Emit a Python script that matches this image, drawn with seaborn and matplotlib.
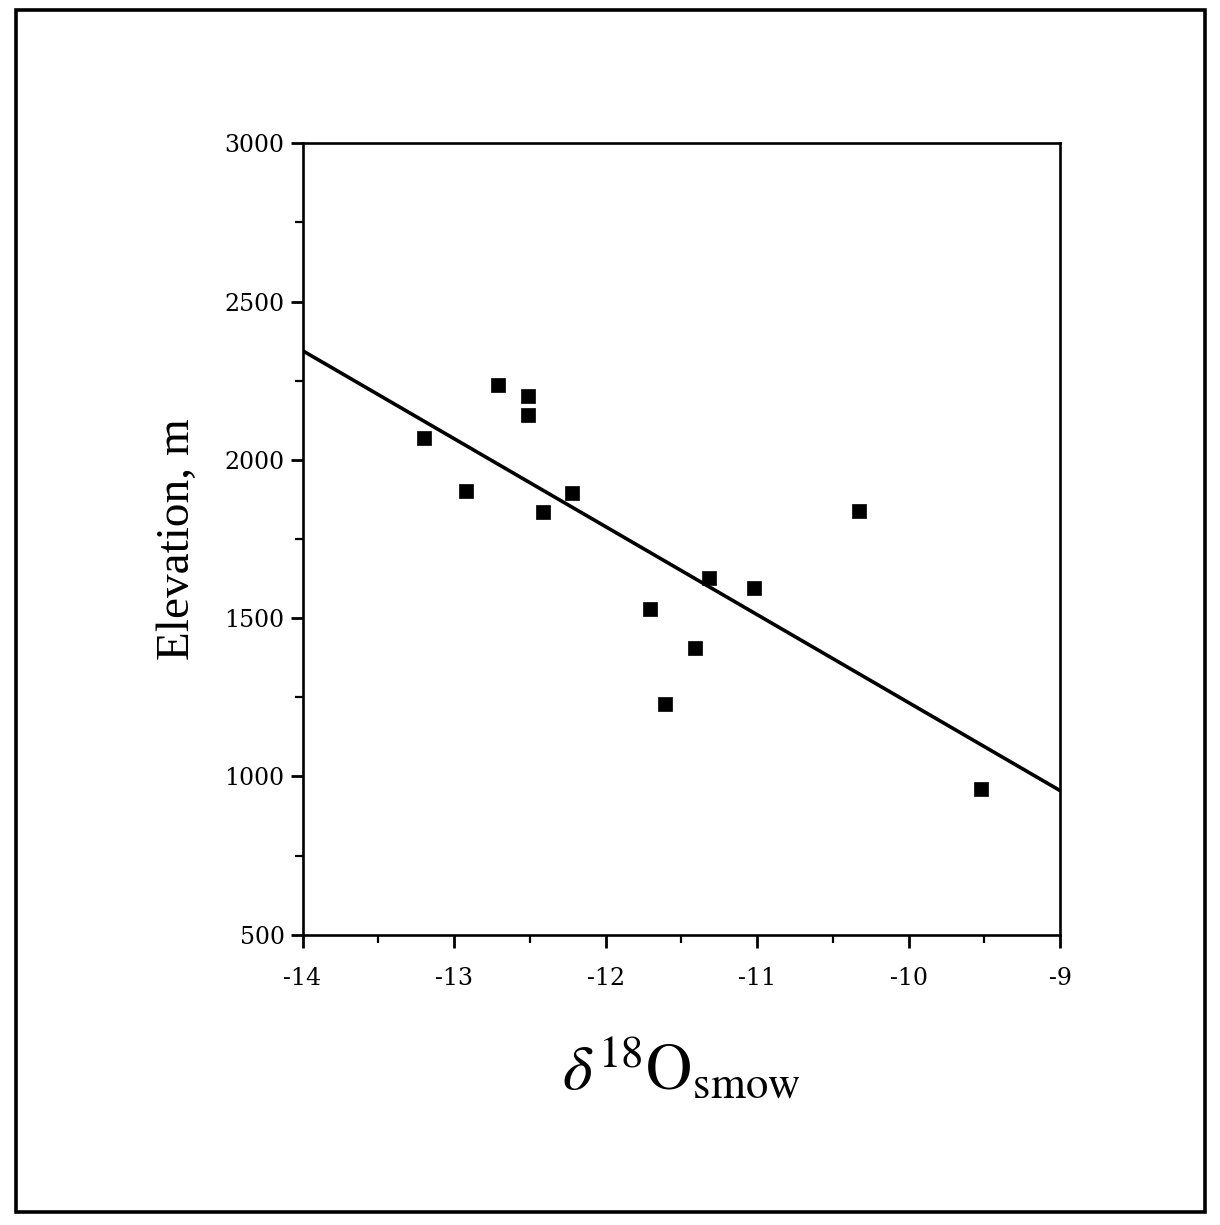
import matplotlib
matplotlib.use("Agg")
import matplotlib.pyplot as plt
import seaborn as sns
import pandas as pd
from matplotlib.ticker import MultipleLocator
from matplotlib.patches import Rectangle

# Data
d18o = [-13.2, -12.92, -12.71, -12.51, -12.51, -12.41, -12.22,
        -11.71, -11.61, -11.41, -11.32, -11.02, -10.33, -9.52]
elevation = [2068, 1902, 2235, 2202, 2142, 1836, 1894,
             1528, 1229, 1407, 1628, 1596, 1840, 961]
fit_x = [-14, -9]
fit_y = [2345, 955]
x_ticks = [-14, -13, -12, -11, -10, -9]
y_ticks = [500, 1000, 1500, 2000, 2500, 3000]

sns.set_style("white")
plt.rcParams["font.family"] = ["DejaVu Serif"]
plt.rcParams["mathtext.fontset"] = "stix"
plt.rcParams["text.color"] = "black"
plt.rcParams["axes.labelcolor"] = "black"
plt.rcParams["xtick.color"] = "black"
plt.rcParams["ytick.color"] = "black"

df = pd.DataFrame({"x": d18o, "y": elevation})
fit = pd.DataFrame({"x": fit_x, "y": fit_y})

fig = plt.figure(figsize=(12.2, 12.25), dpi=100)
ax = fig.add_axes([0.248, 0.237, 0.621, 0.646])

sns.lineplot(data=fit, x="x", y="y", ax=ax, color="black", linewidth=2.6)
sns.scatterplot(data=df, x="x", y="y", ax=ax, marker="s", s=90,
                color="black", edgecolor="black", linewidth=0.5, zorder=3)

ax.set_xlim(-14, -9)
ax.set_ylim(500, 3000)
ax.set_xticks(x_ticks)
ax.set_yticks(y_ticks)
ax.xaxis.set_minor_locator(MultipleLocator(0.5))
ax.yaxis.set_minor_locator(MultipleLocator(250))
ax.tick_params(axis="both", which="both", bottom=True, left=True,
               top=False, right=False)
ax.tick_params(axis="both", which="major", direction="out", length=9,
               width=2.0, color="black", labelcolor="black", labelsize=17)
ax.tick_params(axis="both", which="minor", direction="out", length=6,
               width=1.6, color="black")
ax.tick_params(axis="x", which="major", pad=14)
ax.tick_params(axis="y", which="major", pad=4)
ax.set_xticklabels([str(v) for v in x_ticks])
for sp in ax.spines.values():
    sp.set_visible(True)
    sp.set_linewidth(1.9)
    sp.set_color("black")

ax.set_xlabel(r"$\delta^{18}\mathrm{O}_{\mathrm{smow}}$", fontsize=46,
              labelpad=34, color="black")
ax.set_ylabel("Elevation, m", fontsize=34, family=["Liberation Serif"],
              labelpad=18, color="black")

# outer frame of the figure
fig.patches.append(Rectangle((0.013, 0.0106), 0.975, 0.981,
                             transform=fig.transFigure, fill=False,
                             edgecolor="black", linewidth=2.6))

fig.savefig("out.png", dpi=100)
